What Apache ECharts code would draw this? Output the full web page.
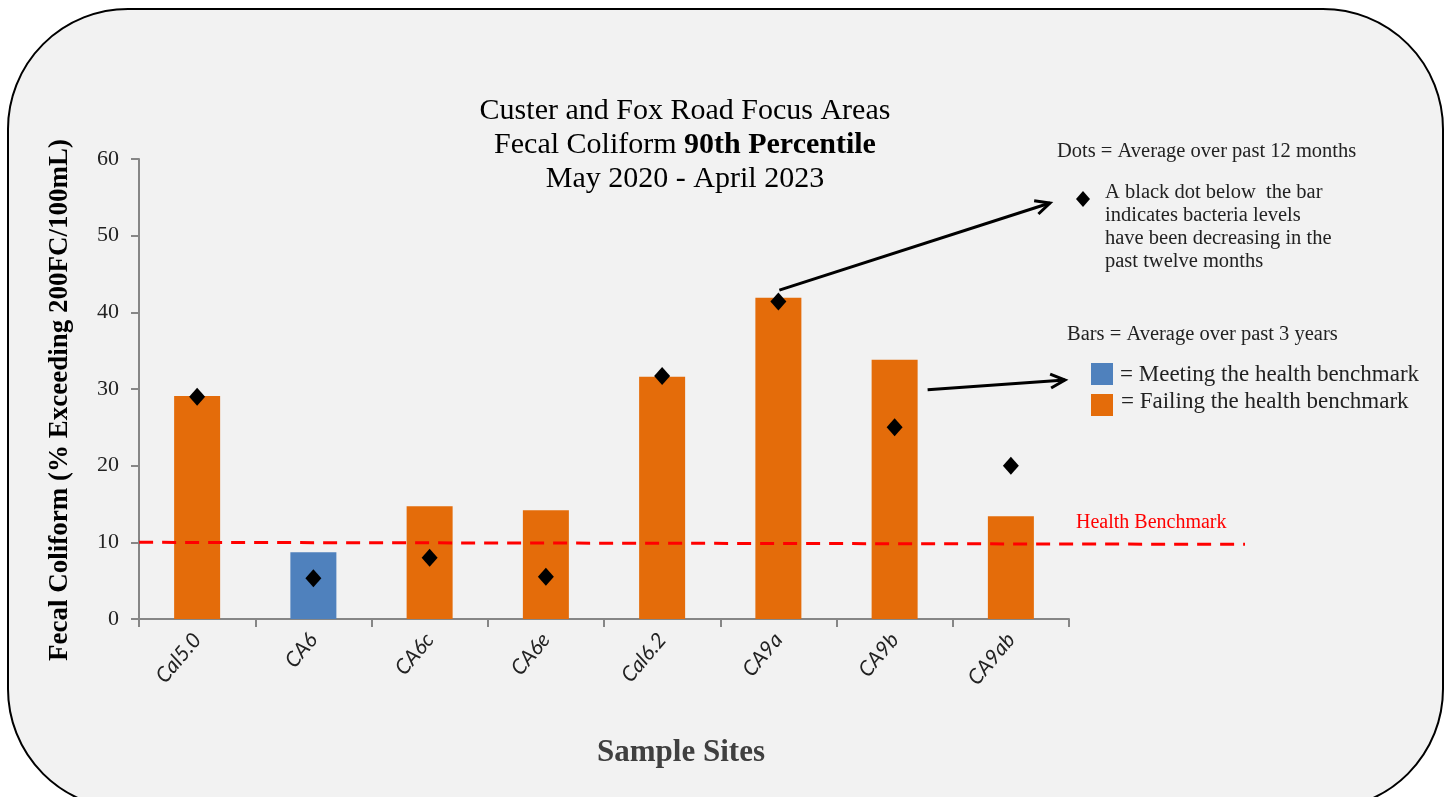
<!DOCTYPE html>
<html>
<head>
<meta charset="utf-8">
<script src="https://cdn.jsdelivr.net/npm/echarts@6/dist/echarts.min.js"></script>
<style>
  html, body { margin: 0; padding: 0; background: #fff; }
  #chart { width: 1449px; height: 797px; }
</style>
</head>
<body>
<div id="chart"></div>
<script>
// sites and values
const sites = ['Cal5.0', 'CA6', 'CA6c', 'CA6e', 'Cal6.2', 'CA9a', 'CA9b', 'CA9ab'];
const bars3yr = [29.1, 8.7, 14.7, 14.2, 31.6, 41.9, 33.8, 13.4];
const dots12mo = [29.0, 5.3, 8.0, 5.5, 31.7, 41.4, 25.0, 20.0];
const yTicks = [0, 10, 20, 30, 40, 50, 60];
const benchmark = 10;

const serif = '"Liberation Serif", "DejaVu Serif", serif';
const blue = '#4F81BD';
const orange = '#E46C0A';

const chart = echarts.init(document.getElementById('chart'));

// arrow with an open chevron head
function arrow(x1, y1, x2, y2) {
  const a = Math.atan2(y2 - y1, x2 - x1);
  const h = 16, s = 0.45;
  return {
    type: 'group',
    children: [
      { type: 'line', shape: { x1, y1, x2, y2 }, style: { stroke: '#000', lineWidth: 3 } },
      {
        type: 'polyline',
        shape: {
          points: [
            [x2 - h * Math.cos(a - s), y2 - h * Math.sin(a - s)],
            [x2, y2],
            [x2 - h * Math.cos(a + s), y2 - h * Math.sin(a + s)]
          ]
        },
        style: { stroke: '#000', lineWidth: 3, fill: null }
      }
    ]
  };
}

const option = {
  backgroundColor: '#fff',
  animation: false,
  title: {
    left: 680,
    top: 89,
    textAlign: 'center',
    text: 'Custer and Fox Road Focus Areas\n{n|Fecal Coliform }{b|90th Percentile}\nMay 2020 - April 2023',
    textStyle: {
      fontFamily: serif, fontSize: 30, fontWeight: 'normal', color: '#000', lineHeight: 34,
      rich: {
        n: { fontFamily: serif, fontSize: 30, color: '#000', lineHeight: 34 },
        b: { fontFamily: serif, fontSize: 30, fontWeight: 'bold', color: '#000', lineHeight: 34 }
      }
    }
  },
  grid: { left: 139, right: 380, top: 159, bottom: 178 },
  xAxis: {
    type: 'category',
    data: sites,
    axisLine: { lineStyle: { color: '#868686', width: 2 } },
    axisTick: { show: true, alignWithLabel: false, length: 8, lineStyle: { color: '#868686', width: 2 } },
    axisLabel: {
      rotate: 50, margin: 17, fontFamily: 'Lato, "Liberation Sans", sans-serif',
      fontStyle: 'italic', fontSize: 21, color: '#222'
    }
  },
  yAxis: {
    type: 'value',
    min: 0, max: 60, interval: 10,
    axisLine: { show: true, lineStyle: { color: '#868686', width: 2 } },
    axisTick: { show: true, length: 8, lineStyle: { color: '#868686', width: 2 } },
    splitLine: { show: false },
    axisLabel: {
      fontFamily: serif, fontSize: 22, color: '#222', margin: 20,
      formatter: v => yTicks.includes(v) ? String(v) : ''
    }
  },
  series: [
    {
      type: 'bar',
      name: 'Average over past 3 years',
      data: bars3yr,
      barWidth: 46,
      itemStyle: { color: p => (p.value < benchmark ? blue : orange) }
    },
    {
      type: 'scatter',
      name: 'Average over past 12 months',
      data: dots12mo,
      symbol: 'diamond',
      symbolSize: [16, 18],
      itemStyle: { color: '#000', opacity: 1 },
      z: 5
    }
  ]
};

chart.setOption(option);

// overlays that depend on the axis scales
const yBench = chart.convertToPixel({ yAxisIndex: 0 }, benchmark);
const x0 = chart.convertToPixel({ xAxisIndex: 0 }, sites[0]) - 58;
const ca9a = chart.convertToPixel({ seriesIndex: 0 }, ['CA9a', 42.9]);
const ca9b = chart.convertToPixel({ seriesIndex: 0 }, ['CA9b', 29.9]);

chart.setOption({
  graphic: [
    {
      type: 'rect', z: -10, silent: true,
      shape: { x: 8, y: 9, width: 1435, height: 800, r: 120 },
      style: { fill: '#F2F2F2', stroke: '#000', lineWidth: 2 }
    },
    {
      type: 'line', z: 4,
      shape: { x1: x0, y1: yBench, x2: 1245, y2: yBench + 2 },
      style: { stroke: '#FF0000', lineWidth: 3, lineDash: [14, 9] }
    },
    {
      type: 'text', left: 1076, top: yBench - 30,
      style: { text: 'Health Benchmark', fontFamily: serif, fontSize: 20, fill: '#FF0000' }
    },
    {
      type: 'text', x: 60, y: 400, rotation: Math.PI / 2,
      style: {
        text: 'Fecal Coliform (% Exceeding 200FC/100mL)', fontFamily: serif, fontSize: 27,
        fontWeight: 'bold', fill: '#000', align: 'center', verticalAlign: 'middle'
      }
    },
    {
      type: 'text', x: 681, y: 753,
      style: {
        text: 'Sample Sites', fontFamily: serif, fontSize: 31, fontWeight: 'bold', fill: '#404040',
        align: 'center', verticalAlign: 'middle'
      }
    },
    {
      type: 'text', left: 1057, top: 141,
      style: { text: 'Dots = Average over past 12 months', fontFamily: serif, fontSize: 20.5, fill: '#222' }
    },
    {
      type: 'polygon',
      shape: { points: [[1083, 191], [1090, 199], [1083, 207], [1076, 199]] },
      style: { fill: '#000' }
    },
    {
      type: 'text', left: 1105, top: 181,
      style: {
        text: 'A black dot below  the bar\nindicates bacteria levels\nhave been decreasing in the\npast twelve months',
        fontFamily: serif, fontSize: 20.5, lineHeight: 23, fill: '#222'
      }
    },
    {
      type: 'text', left: 1067, top: 324,
      style: { text: 'Bars = Average over past 3 years', fontFamily: serif, fontSize: 20.5, fill: '#222' }
    },
    { type: 'rect', shape: { x: 1091, y: 363, width: 22, height: 22 }, style: { fill: blue } },
    { type: 'rect', shape: { x: 1091, y: 394, width: 22, height: 22 }, style: { fill: orange } },
    {
      type: 'text', left: 1120, top: 363,
      style: { text: '= Meeting the health benchmark', fontFamily: serif, fontSize: 23, fill: '#222' }
    },
    {
      type: 'text', left: 1121, top: 390,
      style: { text: '= Failing the health benchmark', fontFamily: serif, fontSize: 23, fill: '#222' }
    },
    arrow(ca9a[0] + 1, ca9a[1], 1050, 203),
    arrow(ca9b[0] + 33, ca9b[1], 1065, 380)
  ]
});
</script>
</body>
</html>
